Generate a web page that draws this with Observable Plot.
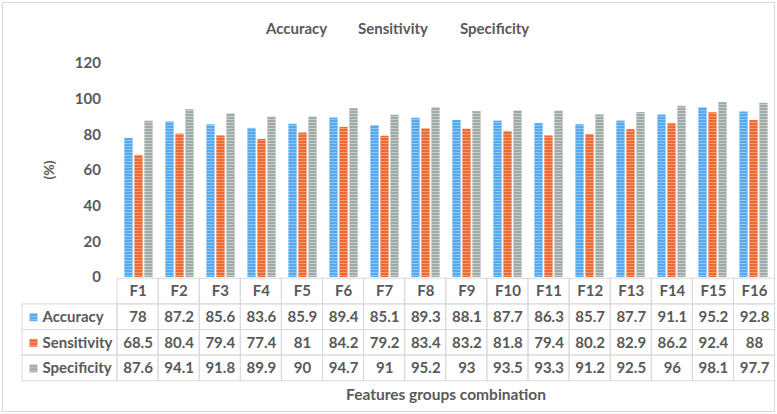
<!DOCTYPE html>
<html><head><meta charset="utf-8">
<script src="https://cdn.jsdelivr.net/npm/d3@7"></script>
<script src="https://cdn.jsdelivr.net/npm/@observablehq/plot@0.6"></script>
<style>
body{margin:0;background:#fff;}
#wrap{position:relative;width:777px;height:414px;font-family:Lato,"Open Sans",sans-serif;color:#595959;overflow:hidden;background:#fff;}
#frame{position:absolute;left:2px;top:2px;width:773px;height:410px;border:1px solid #D9D9D9;box-sizing:border-box;}
.leg{position:absolute;top:19px;font-weight:bold;font-size:15px;white-space:nowrap;}
#ylab{position:absolute;left:34px;top:161px;width:30px;line-height:18px;text-align:center;font-weight:bold;font-size:14px;transform:rotate(-90deg);}
#xlab{position:absolute;left:117px;width:658px;top:385px;text-align:center;font-weight:bold;font-size:15.5px;}
#chart,#table{position:absolute;left:0;}
#chart{top:0;} #table{top:270px;}
</style>
</head><body>
<svg width="0" height="0" style="position:absolute">
  <defs>
    <pattern id="p0" patternUnits="userSpaceOnUse" width="4" height="3">
      <rect width="4" height="3" fill="#56A9EC"/><rect y="2" width="4" height="1" fill="#8DC6F4"/>
    </pattern>
    <pattern id="p1" patternUnits="userSpaceOnUse" width="4" height="3">
      <rect width="4" height="3" fill="#EC6A34"/><rect y="2" width="4" height="1" fill="#F59A72"/>
    </pattern>
    <pattern id="p2" patternUnits="userSpaceOnUse" width="4" height="3">
      <rect width="4" height="3" fill="#A0AAA6"/><rect y="2" width="4" height="1" fill="#C7CDCA"/>
    </pattern>
  </defs>
</svg>
<div id="wrap">
  <div id="frame"></div>
  <div id="legend"></div>
  <div id="ylab"></div>
  <div id="chart"></div>
  <div id="table"></div>
  <div id="xlab"></div>
</div>
<script>
const categories = ["F1","F2","F3","F4","F5","F6","F7","F8","F9","F10","F11","F12","F13","F14","F15","F16"];
const seriesNames = ["Accuracy","Sensitivity","Specificity"];
const accuracy    = [78, 87.2, 85.6, 83.6, 85.9, 89.4, 85.1, 89.3, 88.1, 87.7, 86.3, 85.7, 87.7, 91.1, 95.2, 92.8];
const sensitivity = [68.5, 80.4, 79.4, 77.4, 81, 84.2, 79.2, 83.4, 83.2, 81.8, 79.4, 80.2, 82.9, 86.2, 92.4, 88];
const specificity = [87.6, 94.1, 91.8, 89.9, 90, 94.7, 91, 95.2, 93, 93.5, 93.3, 91.2, 92.5, 96, 98.1, 97.7];
const yTicks = [0, 20, 40, 60, 80, 100, 120];
const xTitle = "Features groups combination";
const yTitle = "(%)";

const seriesValues = [accuracy, sensitivity, specificity];
const fills = ["url(#p0)", "url(#p1)", "url(#p2)"];
const font = 'Lato, "Open Sans", sans-serif';

// legend (text only, as in reference)
const legendLeft = [266, 358, 460];
const legend = document.getElementById("legend");
seriesNames.forEach((n, k) => {
  const s = document.createElement("div");
  s.className = "leg"; s.style.left = legendLeft[k] + "px"; s.textContent = n;
  legend.appendChild(s);
});
document.getElementById("ylab").textContent = yTitle;
document.getElementById("xlab").textContent = xTitle;

// bar data
const rows = categories.map((c, i) => ({cat: c, i, Accuracy: accuracy[i], Sensitivity: sensitivity[i], Specificity: specificity[i]}));

const bw = 8.5, gap = 1.5, band = (776.1 - 116.4) / categories.length;
const groupW = 3 * bw + 2 * gap;
const chart = Plot.plot({
  width: 777, height: 285,
  marginTop: 63, marginBottom: 8, marginLeft: 116.4, marginRight: 0.9,
  style: {background: "transparent", fontFamily: font, fontSize: "15px", fontWeight: "bold", color: "#595959"},
  x: {domain: categories, padding: 0, axis: null},
  y: {domain: [0, 120], ticks: yTicks, tickSize: 0, tickPadding: 16, label: null},
  marks: seriesNames.map((name, k) => {
    const left = (band - groupW) / 2 + k * (bw + gap);
    return Plot.barY(rows, {x: "cat", y: name, fill: fills[k], insetLeft: left, insetRight: band - left - bw});
  })
});
document.getElementById("chart").appendChild(chart);

// data table
const colW = (774.6 - 117) / categories.length;
const labelLeft = -95 / colW;
const headerCells = categories.map((c, i) => ({c, i}));
const valueCells = seriesNames.flatMap((name, k) => seriesValues[k].map((v, i) => ({name, k, i, v})));
const labelRows = seriesNames.map((name, k) => ({name, k}));
const stroke = "#D9D9D9";
const fs = 15;
const tbl = Plot.plot({
  width: 777, height: 120,
  marginTop: 8.3, marginBottom: 9.3, marginLeft: 117, marginRight: 2.4,
  style: {background: "transparent", fontFamily: font, fontSize: "15px", fontWeight: "bold", color: "#595959", overflow: "visible"},
  x: {domain: [0, categories.length], axis: null},
  y: {domain: [0, 4], reverse: true, axis: null},
  marks: [
    Plot.rect(headerCells, {x1: d => d.i, x2: d => d.i + 1, y1: d => 0, y2: d => 1, fill: "none", stroke}),
    Plot.rect(valueCells, {x1: d => d.i, x2: d => d.i + 1, y1: d => d.k + 1, y2: d => d.k + 2, fill: "none", stroke}),
    Plot.rect(labelRows, {x1: d => labelLeft, x2: d => 0, y1: d => d.k + 1, y2: d => d.k + 2, fill: "none", stroke}),
    Plot.text(headerCells, {x: d => d.i + 0.5, y: d => 0.5, text: "c", fill: "#595959", fontSize: fs}),
    Plot.text(valueCells, {x: d => d.i + 0.5, y: d => d.k + 1.5, text: d => String(d.v), fill: "#595959", fontSize: fs}),
    ...seriesNames.map((name, k) => Plot.dot([labelRows[k]], {x: d => labelLeft, y: d => d.k + 1.5, dx: 11, symbol: "square", r: 4.5, fill: fills[k], stroke: "none"})),
    Plot.text(labelRows, {x: d => labelLeft, y: d => d.k + 1.5, dx: 20, text: "name", textAnchor: "start", fill: "#595959", fontSize: fs})
  ]
});
document.getElementById("table").appendChild(tbl);
</script>
</body></html>
